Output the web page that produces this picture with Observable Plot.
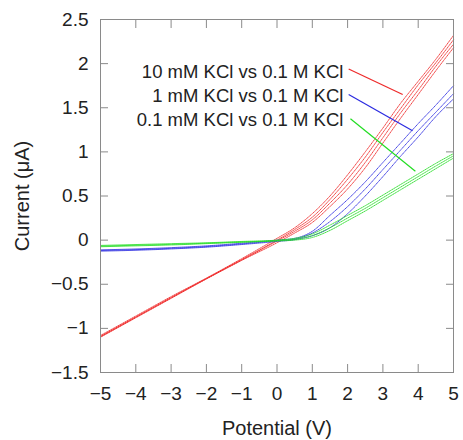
<!DOCTYPE html>
<html>
<head>
<meta charset="utf-8">
<script src="https://cdn.jsdelivr.net/npm/d3@7"></script>
<script src="https://cdn.jsdelivr.net/npm/@observablehq/plot@0.6"></script>
<style>
  html, body { margin: 0; padding: 0; background: #fff; }
  svg { font-family: "Liberation Sans", Arial, sans-serif; }
  g[aria-label$="tick"] { stroke: #8a8a8a; }
  g[aria-label$="axis label"] text { font-size: 20px; }
</style>
</head>
<body>
<div id="chart"></div>
<script>
// Potential (V) sample points shared by all traces
const potential = [-5, -4, -3, -2, -1, 0, 0.5, 1, 1.5, 2, 2.5, 3, 3.5, 4, 4.5, 5];

// Current (µA) traces — several sweeps per series
const red10mM = [
  [-1.10, -0.88, -0.66, -0.44, -0.23, -0.03, 0.08, 0.20, 0.38, 0.58, 0.82, 1.10, 1.38, 1.65, 1.92, 2.18],
  [-1.095, -0.875, -0.655, -0.437, -0.225, -0.01, 0.10, 0.23, 0.42, 0.63, 0.88, 1.16, 1.44, 1.70, 1.97, 2.22],
  [-1.09, -0.87, -0.65, -0.435, -0.22, 0.00, 0.12, 0.26, 0.46, 0.69, 0.94, 1.22, 1.49, 1.76, 2.01, 2.27],
  [-1.08, -0.86, -0.64, -0.43, -0.21, 0.02, 0.14, 0.30, 0.50, 0.74, 1.00, 1.27, 1.55, 1.80, 2.05, 2.32]
];
const blue1mM = [
  [-0.125, -0.115, -0.10, -0.08, -0.05, -0.015, 0.005, 0.05, 0.14, 0.30, 0.50, 0.72, 0.95, 1.17, 1.40, 1.60],
  [-0.118, -0.108, -0.093, -0.073, -0.043, -0.008, 0.01, 0.08, 0.21, 0.38, 0.58, 0.80, 1.02, 1.24, 1.45, 1.66],
  [-0.11, -0.10, -0.085, -0.065, -0.035, 0.00, 0.02, 0.10, 0.28, 0.46, 0.66, 0.88, 1.10, 1.32, 1.53, 1.75]
];
const green01mM = [
  [-0.075, -0.065, -0.055, -0.04, -0.025, -0.01, 0.00, 0.03, 0.11, 0.22, 0.33, 0.45, 0.57, 0.69, 0.81, 0.93],
  [-0.068, -0.058, -0.048, -0.035, -0.02, -0.005, 0.01, 0.05, 0.14, 0.25, 0.36, 0.48, 0.60, 0.72, 0.84, 0.955],
  [-0.06, -0.05, -0.04, -0.03, -0.015, 0.00, 0.02, 0.07, 0.17, 0.28, 0.39, 0.51, 0.63, 0.75, 0.87, 0.98]
];

const seriesNames = ["10 mM KCl vs 0.1 M KCl", "1 mM KCl vs 0.1 M KCl", "0.1 mM KCl vs 0.1 M KCl"];
const seriesColors = ["#ee2a2a", "#2a2ae0", "#22dd22"];

// Label anchor points (data coords) and leader lines
const labelX = [1.88, 1.88, 1.88];
const labelY = [1.90, 1.636, 1.364];
const leaderStartX = [2.03, 2.03, 2.08];
const leaderStartY = [1.94, 1.65, 1.375];
const leaderEndX = [3.56, 3.84, 3.92];
const leaderEndY = [1.65, 1.24, 0.78];

const xTicks = [-5, -4, -3, -2, -1, 0, 1, 2, 3, 4, 5];
const yTicks = [-1.5, -1, -0.5, 0, 0.5, 1, 1.5, 2, 2.5];

const traceSets = [red10mM, blue1mM, green01mM];
const rows = traceSets.flatMap((traces, si) =>
  traces.flatMap((vals, ti) =>
    vals.map((c, i) => ({V: potential[i], I: c, series: seriesNames[si], trace: si + "-" + ti}))
  )
);
const labels = seriesNames.map((name, i) => ({
  name, x: labelX[i], y: labelY[i],
  x1: leaderStartX[i], y1: leaderStartY[i], x2: leaderEndX[i], y2: leaderEndY[i]
}));

const fmt = d => (d < 0 ? "\u2212" : "") + String(Math.abs(d));

const chart = Plot.plot({
  width: 463,
  height: 440,
  marginLeft: 100,
  marginRight: 10,
  marginTop: 19,
  marginBottom: 68,
  style: {fontSize: "19px", fontFamily: "Liberation Sans, Arial, sans-serif", color: "#222"},
  x: {domain: [-5, 5], label: null},
  y: {domain: [-1.5, 2.5], label: null},
  color: {domain: seriesNames, range: seriesColors},
  marks: [
    Plot.line(rows, {x: "V", y: "I", z: "trace", stroke: "series", strokeWidth: 1, strokeOpacity: 0.85, strokeDasharray: "1,1", curve: "monotone-x"}),
    Plot.link(labels, {x1: "x1", y1: "y1", x2: "x2", y2: "y2", stroke: "name", strokeWidth: 1.2}),
    Plot.text(labels, {x: "x", y: "y", text: "name", textAnchor: "end", fontSize: 18.5, fill: "#222"}),
    Plot.frame({stroke: "#8a8a8a"}),
    Plot.axisX({anchor: "bottom", ticks: xTicks, tickSize: -8, tickPadding: 22, tickFormat: fmt, label: "Potential (V)", labelArrow: "none", labelAnchor: "center", labelOffset: 62}),
    Plot.axisX({anchor: "top", ticks: xTicks, tickSize: -8, tickFormat: () => "", label: null}),
    Plot.axisY({anchor: "left", ticks: yTicks, tickSize: -8, tickPadding: 20, tickFormat: fmt, label: "Current (μA)", labelArrow: "none", labelAnchor: "center", labelOffset: 86}),
    Plot.axisY({anchor: "right", ticks: yTicks, tickSize: -8, tickFormat: () => "", label: null})
  ]
});
document.getElementById("chart").appendChild(chart);
</script>
</body>
</html>
